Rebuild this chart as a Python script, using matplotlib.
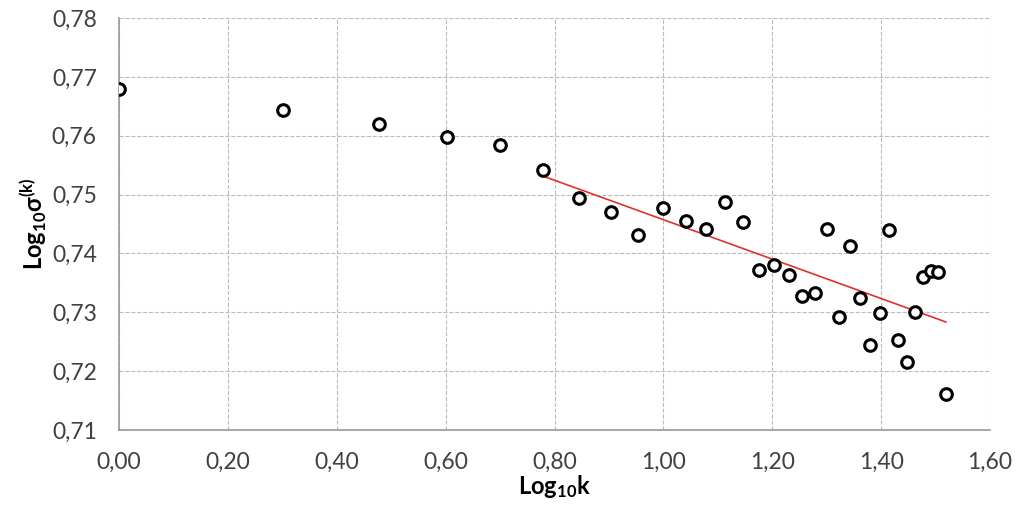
import numpy as np
import matplotlib
matplotlib.use("Agg")
import matplotlib.pyplot as plt
from matplotlib.ticker import FuncFormatter, MultipleLocator

# log10 k, k = 1..33
log_k = [0.000, 0.301, 0.477, 0.602, 0.699, 0.778, 0.845, 0.903, 0.954, 1.000,
         1.041, 1.079, 1.114, 1.146, 1.176, 1.204, 1.230, 1.255, 1.279, 1.301,
         1.322, 1.342, 1.362, 1.380, 1.398, 1.415, 1.431, 1.447, 1.462, 1.477,
         1.491, 1.505, 1.519]
log_sigma = [0.7679, 0.7644, 0.7620, 0.7597, 0.7584, 0.7542, 0.7495, 0.7470, 0.7431, 0.7478,
             0.7455, 0.7441, 0.7487, 0.7453, 0.7372, 0.7380, 0.7363, 0.7327, 0.7333, 0.7441,
             0.7292, 0.7412, 0.7325, 0.7245, 0.7299, 0.7440, 0.7253, 0.7215, 0.7300, 0.7360,
             0.7370, 0.7368, 0.7162]
fit_from = 5  # trend line fitted from k = 6 onward

plt.rcParams['font.family'] = ['Lato', 'DejaVu Sans']
plt.rcParams['mathtext.fontset'] = 'custom'
plt.rcParams['mathtext.bf'] = 'Lato:bold'
plt.rcParams['mathtext.rm'] = 'Lato'
plt.rcParams['mathtext.default'] = 'bf'

fig = plt.figure(figsize=(10.2, 5.13), dpi=100)
ax = fig.add_axes([0.1167, 0.1618, 0.8539, 0.8031])

x = np.array(log_k)
y = np.array(log_sigma)

# linear trend over the tail
coef = np.polyfit(x[fit_from:], y[fit_from:], 1)
xs = np.array([x[fit_from], x[-1]])
ax.plot(xs, np.polyval(coef, xs), color='#e03030', linewidth=1.2, zorder=2)

ax.scatter(x, y, s=70, facecolors='white', edgecolors='black', linewidths=2.2, zorder=3)

ax.set_xlim(0, 1.6)
ax.set_ylim(0.71, 0.78)
ax.xaxis.set_major_locator(MultipleLocator(0.2))
ax.yaxis.set_major_locator(MultipleLocator(0.01))
ax.xaxis.set_major_formatter(FuncFormatter(lambda v, p: f"{v:.2f}".replace('.', ',')))
ax.yaxis.set_major_formatter(FuncFormatter(lambda v, p: f"{v:.2f}".replace('.', ',')))
ax.tick_params(length=0, labelsize=16.5, colors='#404040')
ax.tick_params(axis='x', pad=16)
ax.tick_params(axis='y', pad=16)

ax.grid(True, color='#bbbbbb', linestyle='--', linewidth=0.8, zorder=0)
ax.set_axisbelow(True)
for side in ['top', 'right']:
    ax.spines[side].set_visible(False)
for side in ['left', 'bottom']:
    ax.spines[side].set_color('#999999')
    ax.spines[side].set_linewidth(1.2)

ax.set_xlabel('Log$_{10}$k', fontsize=17, fontweight='bold', labelpad=0)
ax.set_ylabel('Log$_{10}$σ$^{(k)}$', fontsize=17, fontweight='bold', labelpad=2)

fig.savefig('out.png', dpi=100)
